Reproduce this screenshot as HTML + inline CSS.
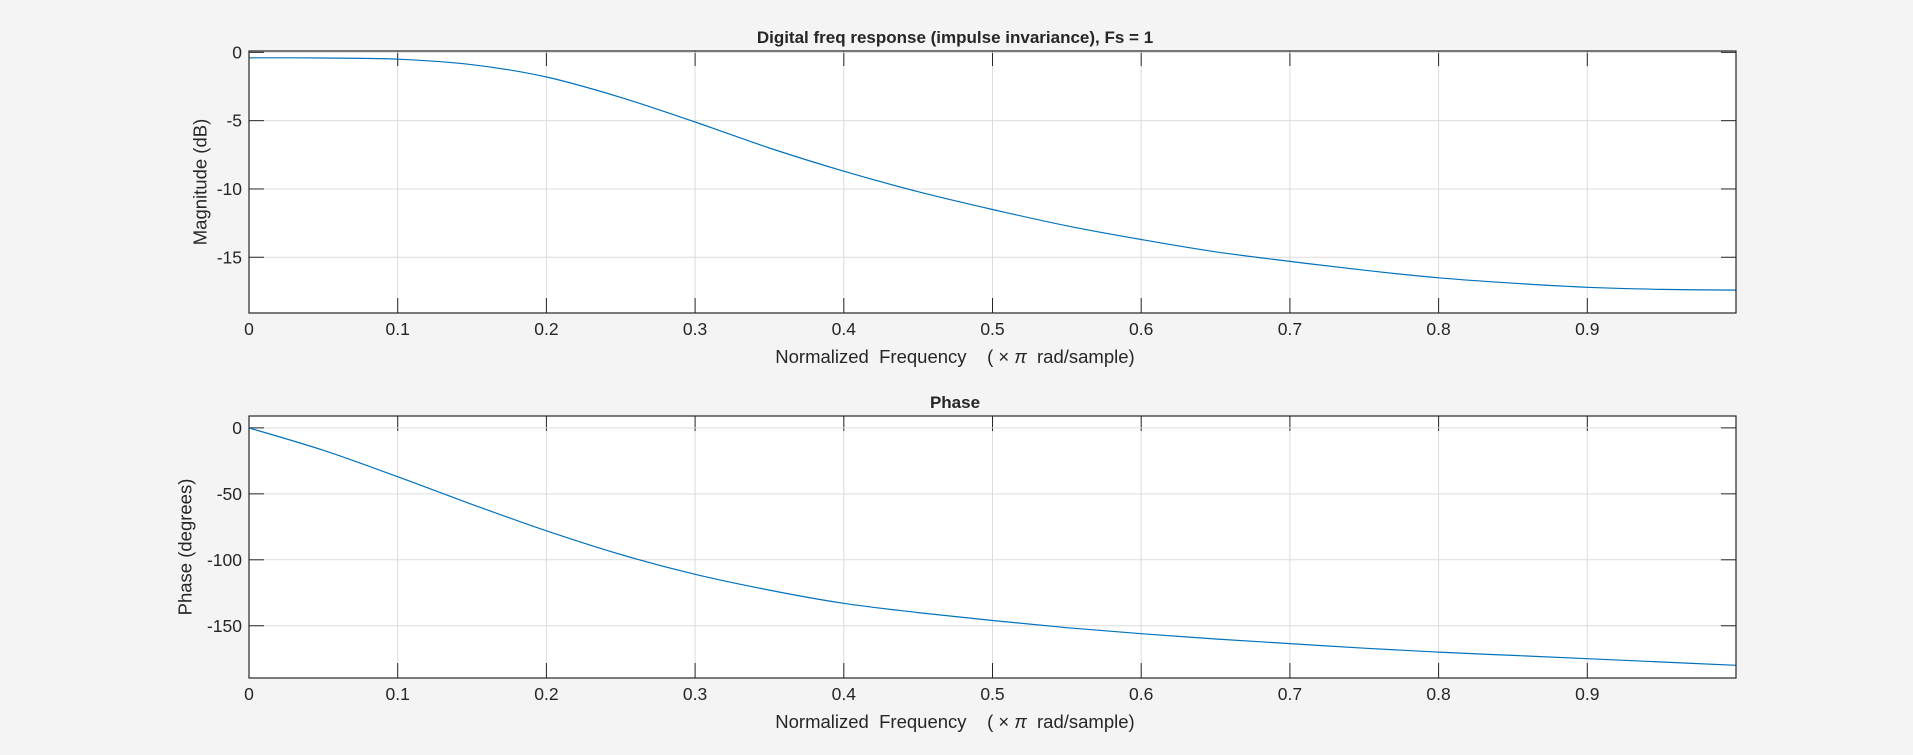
<!DOCTYPE html>
<html><head><meta charset="utf-8"><style>
html,body{margin:0;padding:0;background:#f4f4f4;}
svg{display:block;font-family:"Liberation Sans",Arial,sans-serif;}
text{white-space:pre;}
</style></head><body>
<svg id="fig" width="1913" height="755" viewBox="0 0 1913 755">
<rect width="1913" height="755" fill="#f4f4f4"/>
</svg>
<script>
const freqs = [0,0.05,0.1,0.15,0.2,0.25,0.3,0.35,0.4,0.45,0.5,0.55,0.6,0.65,0.7,0.75,0.8,0.85,0.9,0.95,1.0];
const magDb = [-0.40,-0.41,-0.5,-0.9,-1.8,-3.3,-5.1,-7.0,-8.7,-10.2,-11.5,-12.7,-13.7,-14.6,-15.3,-15.95,-16.5,-16.9,-17.2,-17.35,-17.4];
const phaseDeg = [0,-17,-37,-58,-78,-96,-111,-123,-133,-140,-146,-151.5,-156,-160,-163.5,-167,-170,-172.5,-175,-177.5,-180];
const xTicks = [0,0.1,0.2,0.3,0.4,0.5,0.6,0.7,0.8,0.9];
const xTickLabels = ["0","0.1","0.2","0.3","0.4","0.5","0.6","0.7","0.8","0.9"];
const magTicks = [0,-5,-10,-15];
const phaseTicks = [0,-50,-100,-150];

const NS="http://www.w3.org/2000/svg";
const svg=document.getElementById('fig');
function mk(tag,attrs,parent){const e=document.createElementNS(NS,tag);for(const k in attrs)e.setAttribute(k,attrs[k]);(parent||svg).appendChild(e);return e;}

function smoothPath(P){
  let d='M'+P[0][0].toFixed(1)+','+P[0][1].toFixed(1);
  for(let i=0;i<P.length-1;i++){
    const p0=P[Math.max(0,i-1)],p1=P[i],p2=P[i+1],p3=P[Math.min(P.length-1,i+2)];
    const c1=[p1[0]+(p2[0]-p0[0])/6,p1[1]+(p2[1]-p0[1])/6];
    const c2=[p2[0]-(p3[0]-p1[0])/6,p2[1]-(p3[1]-p1[1])/6];
    d+=' C'+c1[0].toFixed(1)+','+c1[1].toFixed(1)+' '+c2[0].toFixed(1)+','+c2[1].toFixed(1)+' '+p2[0].toFixed(1)+','+p2[1].toFixed(1);
  }
  return d;
}

function drawAxes(cfg){
  const g=mk('g',{});
  
  
  const L=249,R=1736,T=cfg.top,B=cfg.bottom;
  const xs=v=>L+(v-0)/(1.0-0)*(R-L);
  const ys=v=>T+(cfg.ymax-v)/(cfg.ymax-cfg.ymin)*(B-T);
  const bg=mk('rect',{x:L,y:T,width:R-L,height:B-T,fill:'#fff'},g);
  
  
  xTicks.forEach((t,i)=>{
    const x=xs(t);
    if(t>0){
      const gl=mk('line',{x1:x,x2:x,y1:T,y2:B,stroke:'#dcdcdc','stroke-width':1},g);
      
      
    }
    mk('line',{x1:x,x2:x,y1:B,y2:B-15,stroke:'#262626','stroke-width':1},g);
    mk('line',{x1:x,x2:x,y1:T,y2:T+15,stroke:'#262626','stroke-width':1},g);
    const tl=mk('text',{x:x,y:B+22,'text-anchor':'middle','font-size':'17.5',fill:'#262626'},g);
    tl.textContent=xTickLabels[i];
    
    
  });
  cfg.ticks.forEach(t=>{
    const y=ys(t);
    const gl=mk('line',{x1:L,x2:R,y1:y,y2:y,stroke:'#dcdcdc','stroke-width':1},g);
    
    
    mk('line',{x1:L,x2:L+15,y1:y,y2:y,stroke:'#262626','stroke-width':1},g);
    mk('line',{x1:R,x2:R-15,y1:y,y2:y,stroke:'#262626','stroke-width':1},g);
    const tl=mk('text',{x:242,y:y+6,'text-anchor':'end','font-size':'17.5',fill:'#262626'},g);
    tl.textContent=String(t);
    
    
  });
  const P=freqs.map((f,i)=>[xs(f),ys(cfg.data[i])]);
  const line=mk('path',{d:smoothPath(P),fill:'none',stroke:'#0072bd','stroke-width':1.2,'stroke-linejoin':'round'},g);
  
  
  const box=mk('rect',{x:L,y:T,width:R-L,height:B-T,fill:'none',stroke:'#262626','stroke-width':1.2},g);
  
  
  const ti=mk('text',{x:955,y:T-8,'text-anchor':'middle','font-size':'17','font-weight':'bold',fill:'#262626'},g);
  ti.textContent=cfg.title;
  
  
  const xl=mk('text',{x:955,y:B+50,'text-anchor':'middle','font-size':'18.5',fill:'#262626'},g);
  
  
  const s1=mk('tspan',{},xl); s1.textContent='Normalized  Frequency    ( \u00d7 ';
  const s2=mk('tspan',{'font-style':'italic'},xl); s2.textContent='\u03c0';
  const s3=mk('tspan',{},xl); s3.textContent='  rad/sample)';
  const cy=(T+B)/2;
  const yl=mk('text',{x:cfg.ylx,y:cy,'text-anchor':'middle','font-size':'18.5',fill:'#262626',transform:'rotate(-90 '+cfg.ylx+' '+cy+')','dominant-baseline':'central'},g);
  yl.textContent=cfg.ylabel;
  
  
}
drawAxes({name:'magnitude-axes',top:51,bottom:313,ymin:-19.08,ymax:0.1,ticks:magTicks,data:magDb,title:'Digital freq response (impulse invariance), Fs = 1',ylabel:'Magnitude (dB)',ylx:200});
drawAxes({name:'phase-axes',top:416,bottom:678,ymin:-189.6,ymax:9,ticks:phaseTicks,data:phaseDeg,title:'Phase',ylabel:'Phase (degrees)',ylx:185});
</script>
</body></html>
